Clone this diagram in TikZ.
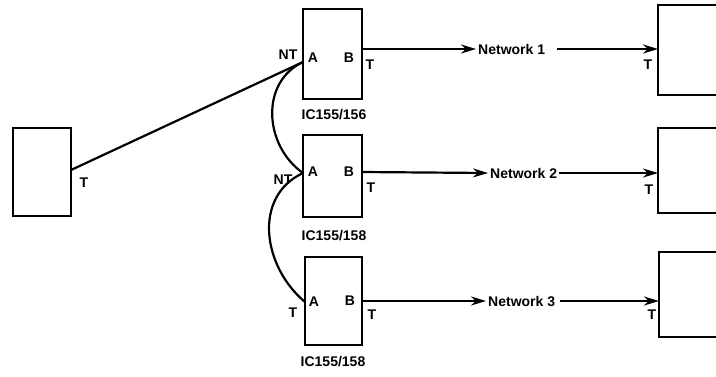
\documentclass[tikz,border=0pt]{standalone}
\usepackage{fontspec}
\setmainfont{Liberation Sans}
\usetikzlibrary{arrows.meta}
\begin{document}
\begin{tikzpicture}[x=1pt,y=1pt,
  box/.style={draw,line width=2.2pt,minimum width=#1,inner sep=0pt},
  lab/.style={font=\fontsize{14}{14}\selectfont\bfseries,inner sep=0pt},
  conn/.style={line width=2.2pt},
  arr/.style={conn,-{Stealth[length=15pt,width=9pt]}}]
\useasboundingbox (0,0) rectangle (716,-376);
% boxes
\node[box=58pt,minimum height=88pt] (L) at (42,-172) {};
\node[box=59pt,minimum height=90pt] (b1) at (332.5,-54) {};
\node[box=59pt,minimum height=82pt] (b2) at (332.5,-176) {};
\node[box=57pt,minimum height=88pt] (b3) at (333.5,-301) {};
\node[box=72pt,minimum height=90pt] (r1) at (694,-50) {};
\node[box=72pt,minimum height=85pt] (r2) at (694,-170.5) {};
\node[box=72pt,minimum height=85pt] (r3) at (695,-294.5) {};
% ports
\coordinate (lp) at (71,-170);
\coordinate (a1) at (303,-62);
\coordinate (p1) at (362,-49);
\coordinate (a2) at (303,-173);
\coordinate (p2) at (362,-172);
\coordinate (a3) at (305,-302);
\coordinate (p3) at (362,-301);
\coordinate (q1) at (658,-49);
\coordinate (q2) at (658,-173);
\coordinate (q3) at (659,-301);
% network labels
\node[lab,anchor=west,inner sep=2pt] (n1) at (476,-49) {Network 1};
\node[lab,anchor=west,inner sep=2pt] (n2) at (488,-173) {Network 2};
\node[lab,anchor=west,inner sep=2pt] (n3) at (486,-301) {Network 3};
% connectors
\draw[conn] (lp) -- (a1);
\draw[conn] (a1) to[out=205,in=145,looseness=1.1] (a2);
\draw[conn] (a2) to[out=205,in=140,looseness=1.1] (a3);
\draw[arr] (p1) -- (n1.west);
\draw[arr] (p2) -- (n2.west);
\draw[arr] (p3) -- (n3.west);
\draw[arr,shorten <=10pt] (n1.east) -- (q1);
\draw[arr] (n2.east) -- (q2);
\draw[arr,shorten <=3pt] (n3.east) -- (q3);
% port labels
\node[lab] (tl) at (84,-183) {T};
\node[lab] (nt1) at (288,-55) {NT};
\node[lab] (pa1) at (313,-58) {A};
\node[lab] (pb1) at (349,-58) {B};
\node[lab] (t1) at (370,-65) {T};
\node[lab] (nt2) at (283,-180) {NT};
\node[lab] (pa2) at (313,-172) {A};
\node[lab] (pb2) at (349,-172) {B};
\node[lab] (t2) at (371,-188) {T};
\node[lab] (tt3) at (293,-313) {T};
\node[lab] (pa3) at (314,-302) {A};
\node[lab] (pb3) at (350,-301) {B};
\node[lab] (t3) at (372,-315) {T};
\node[lab] (tr1) at (648,-65) {T};
\node[lab] (tr2) at (649,-190) {T};
\node[lab] (tr3) at (652,-315) {T};
% chip labels
\node[lab] (c1) at (334,-115) {IC155/156};
\node[lab] (c2) at (334,-236) {IC155/158};
\node[lab] (c3) at (333,-362) {IC155/158};
\end{tikzpicture}
\end{document}
